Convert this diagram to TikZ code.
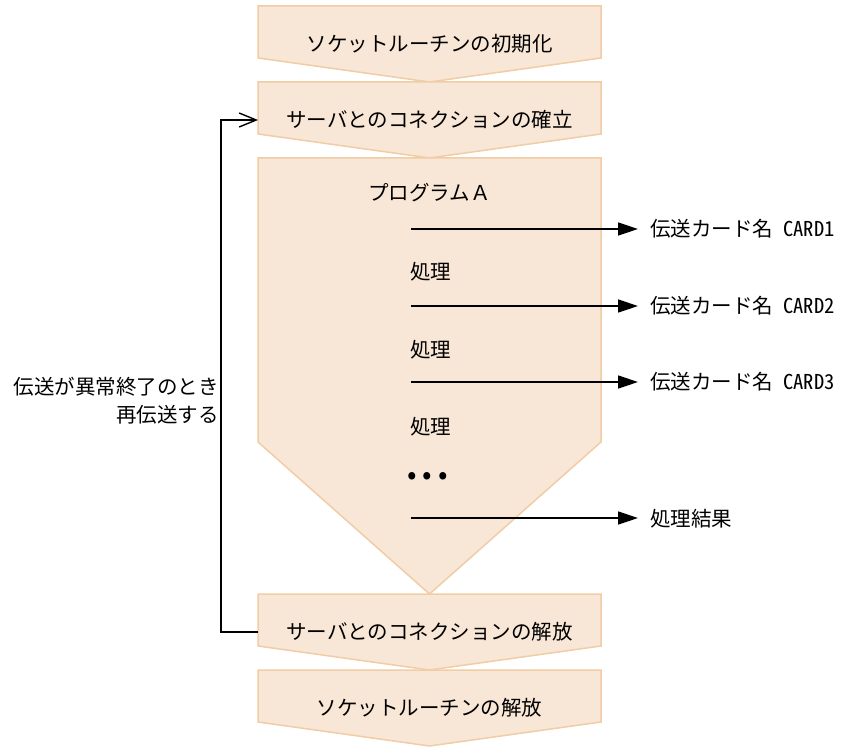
\documentclass[tikz,border=0pt]{standalone}
\usepackage{fontspec}
\setmainfont{Noto Sans CJK JP}
\usepackage{xcolor}
\usepackage{tikz}
\usetikzlibrary{positioning, arrows.meta, backgrounds}

\definecolor{boxfill}{HTML}{F8E6D6}
\definecolor{boxline}{HTML}{F1CDA6}
\newcommand{\halfw}[1]{{\addfontfeatures{RawFeature=+hwid}#1}}

\begin{document}
\begin{tikzpicture}[x=1pt, y=-1pt, node distance=0pt,
        font=\fontsize{20.5}{28}\selectfont,
        stepbox/.style={rectangle, minimum width=343pt, minimum height=76pt,
                        inner sep=0pt, outer sep=0pt},
        chevron/.style={fill=boxfill, draw=boxline, line width=1.5pt},
        intext/.style={anchor=west, inner sep=0pt},
        flow/.style={-{Triangle[length=20pt, width=13pt]}, line width=1.4pt, shorten >=12pt},
        back/.style={-{Straight Barb[length=17pt, width=14pt]}, line width=1.4pt}]

        \useasboundingbox (0,0) rectangle (842,746);

        \node[stepbox] (init) at (429.5,44) {ソケットルーチンの初期化};
        \node[stepbox, below=of init] (conn)  {サーバとのコネクションの確立};
        \node[stepbox, below=of conn, minimum height=436pt] (prog) {};
        \node[stepbox, below=of prog] (close) {サーバとのコネクションの解放};
        \node[stepbox, below=of close] (fin)  {ソケットルーチンの解放};

        \begin{scope}[on background layer]
            \foreach \n in {init, conn, close, fin}
                \draw[chevron] (\n.north west) -- (\n.north east) -- ([yshift=24pt]\n.south east)
                    -- (\n.south) -- ([yshift=24pt]\n.south west) -- cycle;
            \draw[chevron] (prog.north west) -- (prog.north east) -- ([yshift=152pt]prog.south east)
                -- (prog.south) -- ([yshift=152pt]prog.south west) -- cycle;
        \end{scope}

        % program A steps
        \node[intext] (progname) at (368,193) {プログラムＡ};
        \node[intext] (task1) at (410,272) {処理};
        \node[intext] (task2) at (410,350) {処理};
        \node[intext] (task3) at (410,427) {処理};
        \node[inner sep=0pt, anchor=base west, font=\fontsize{28}{28}\selectfont] (dots) at (407,484) {• • •};

        \coordinate (s1) at (411,229);
        \coordinate (s2) at (411,306);
        \coordinate (s3) at (411,382);
        \coordinate (s4) at (411,518);

        \node[intext] (card1)  at (650,229) {伝送カード名\halfw{\ CARD1}};
        \node[intext] (card2)  at (650,306) {伝送カード名\halfw{\ CARD2}};
        \node[intext] (card3)  at (650,382) {伝送カード名\halfw{\ CARD3}};
        \node[intext] (result) at (650,519) {処理結果};

        \draw[flow] (s1) -- (s1 -| card1.west);
        \draw[flow] (s2) -- (s2 -| card2.west);
        \draw[flow] (s3) -- (s3 -| card3.west);
        \draw[flow] (s4) -- (s4 -| result.west);

        % retry loop
        \node[anchor=east, align=right, inner sep=0pt] (retry) at (219,401)
            {伝送が異常終了のとき\\再伝送する};
        \draw[back] (close.west) -- ++(-37,0) |- (conn.west);
    \end{tikzpicture}
\end{document}
